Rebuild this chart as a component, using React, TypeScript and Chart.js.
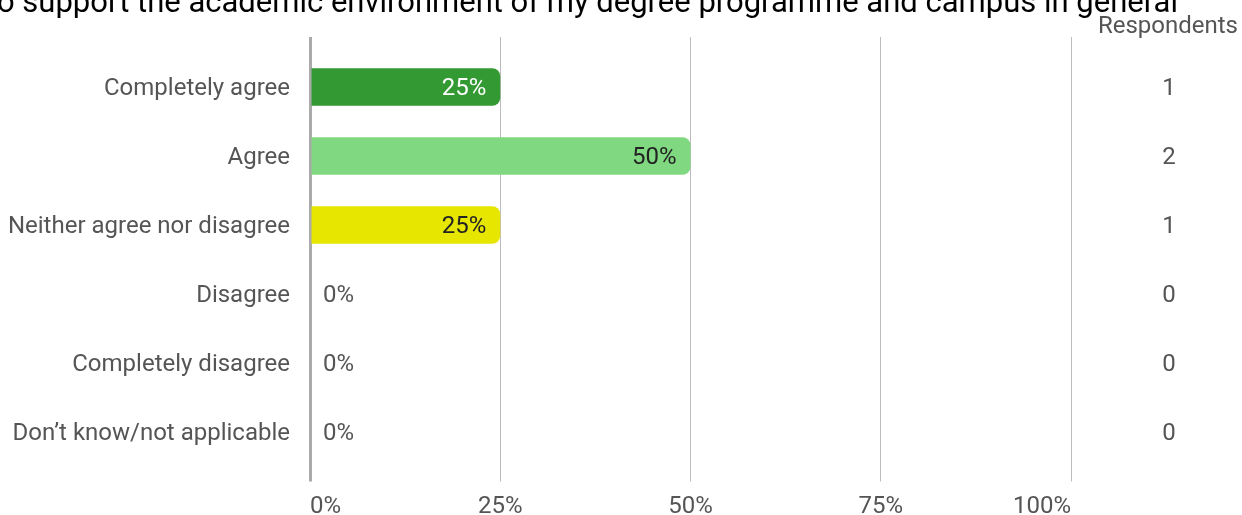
import React, { useEffect, useRef } from "react";
import { Chart, registerables } from "chart.js";

Chart.register(...registerables);

const titleText = "o support the academic environment of my degree programme and campus in general";
const categories = [
  "Completely agree",
  "Agree",
  "Neither agree nor disagree",
  "Disagree",
  "Completely disagree",
  "Don\u2019t know/not applicable",
];
const percentValues = [25, 50, 25, 0, 0, 0];
const respondentCounts = [1, 2, 1, 0, 0, 0];
const barColors = ["#339933", "#80d880", "#e6e600", "#999999", "#999999", "#999999"];
const labelColors = ["#ffffff", "#222222", "#222222", "#555555", "#555555", "#555555"];
const xTicks = [0, 25, 50, 75, 100];
const respondentsHeader = "Respondents";

const FONT = "Roboto";

const overlayPlugin = {
  id: "overlay",
  afterDatasetsDraw(chart: any) {
    const { ctx, chartArea } = chart;
    const meta = chart.getDatasetMeta(0);
    const yScale = chart.scales.y;
    ctx.save();
    ctx.font = `24px ${FONT}`;
    ctx.textBaseline = "middle";
    meta.data.forEach((bar: any, i: number) => {
      const v = percentValues[i];
      const txt = `${v}%`;
      if (v > 0) {
        ctx.textAlign = "right";
        ctx.fillStyle = labelColors[i];
        ctx.fillText(txt, bar.x - 14, bar.y + 2);
      } else {
        ctx.textAlign = "left";
        ctx.fillStyle = "#555555";
        ctx.fillText(txt, bar.x + 13, bar.y + 2);
      }
    });
    // respondents column
    ctx.fillStyle = "#555555";
    ctx.textAlign = "center";
    respondentCounts.forEach((c, i) => {
      const y = yScale.getPixelForValue(i);
      ctx.fillText(String(c), chartArea.right + 98, y + 2);
    });
    ctx.textAlign = "right";
    ctx.textBaseline = "alphabetic";
    ctx.fillText(respondentsHeader, 1238, 33);
    // title (cut off at top)
    ctx.fillStyle = "#000000";
    ctx.font = `31px ${FONT}`;
    ctx.textAlign = "left";
    ctx.fillText(titleText, -3, 12);
    ctx.restore();
  },
};

export default function App() {
  const ref = useRef<HTMLCanvasElement | null>(null);
  useEffect(() => {
    document.body.style.margin = "0";
    const canvas = ref.current;
    if (!canvas) return;
    const gridW = (c: any) => (c.tick && c.tick.value === 0 ? 3 : 1);
    const gridC = (c: any) => (c.tick && c.tick.value === 0 ? "#aaaaaa" : "#bdbdbd");
    const chart = new Chart(canvas, {
      type: "bar",
      data: {
        labels: categories,
        datasets: [
          {
            data: percentValues,
            backgroundColor: barColors,
            borderWidth: 0,
            borderRadius: 8,
            borderSkipped: "start",
            barPercentage: 0.545,
            categoryPercentage: 1,
          },
        ],
      },
      options: {
        indexAxis: "y",
        responsive: false,
        animation: false,
        devicePixelRatio: 1,
        layout: { padding: { top: 37, right: 171, left: 0, bottom: 0 } },
        plugins: {
          legend: { display: false },
          tooltip: { enabled: false },
          title: { display: false },
        },
        scales: {
          x: {
            type: "linear",
            position: "bottom",
            min: 0,
            max: 100,
            afterBuildTicks: (s: any) => {
              s.ticks = xTicks.map((v) => ({ value: v }));
            },
            afterFit: (s: any) => {
              s.height = 48.5;
            },
            grid: {
              color: gridC,
              lineWidth: gridW,
              tickColor: gridC,
              tickWidth: gridW,
              tickLength: 15,
              drawTicks: true,
            },
            border: { display: false },
            ticks: {
              align: "inner",
              padding: 11,
              color: "#555555",
              font: { family: FONT, size: 24 },
              callback: (v: any) => `${v}%`,
            },
          },
          x2: {
            type: "linear",
            position: "top",
            min: 0,
            max: 100,
            afterBuildTicks: (s: any) => {
              s.ticks = xTicks.map((v) => ({ value: v }));
            },
            afterFit: (s: any) => {
              s.height = 15.5;
            },
            grid: {
              color: gridC,
              lineWidth: gridW,
              tickColor: gridC,
              tickWidth: gridW,
              tickLength: 15.5,
              drawOnChartArea: false,
              drawTicks: true,
            },
            border: { display: false },
            ticks: { display: false },
          },
          y: {
            type: "category",
            position: "left",
            afterFit: (s: any) => {
              s.width = 310;
            },
            grid: { display: false, drawTicks: false },
            border: { display: false },
            ticks: {
              padding: 20,
              labelOffset: 2,
              color: "#555555",
              font: { family: FONT, size: 24 },
            },
          },
        },
      } as any,
      plugins: [overlayPlugin],
    });
    return () => chart.destroy();
  }, []);
  return (
    <div style={{ width: 1242, height: 515 }}>
      <canvas ref={ref} width={1242} height={515} style={{ display: "block" }} />
    </div>
  );
}
